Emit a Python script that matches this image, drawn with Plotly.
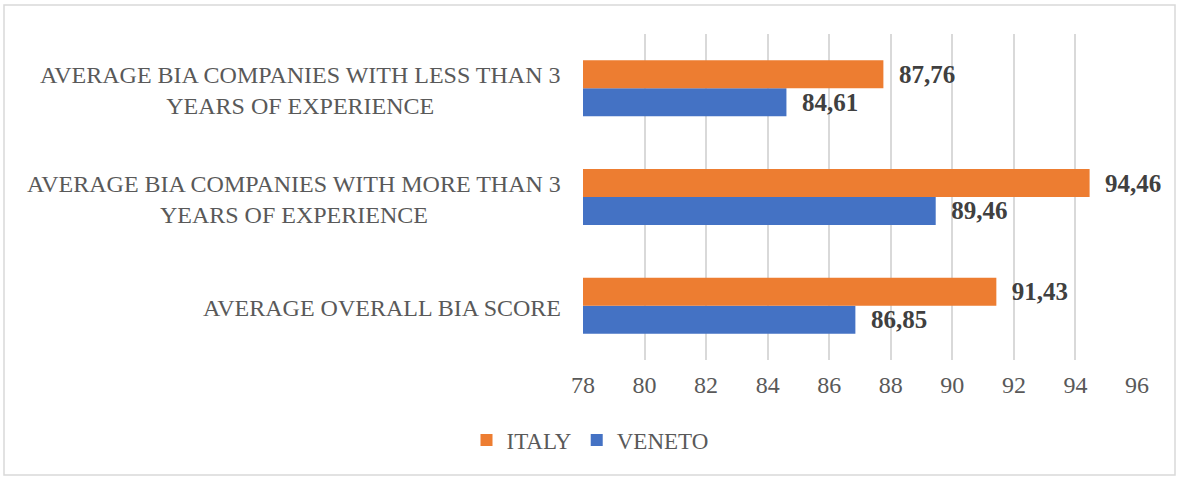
import plotly.graph_objects as go

# Categories listed bottom-to-top (Plotly draws the first category at the bottom)
categories = [
    "AVERAGE OVERALL BIA SCORE",
    "AVERAGE BIA COMPANIES WITH MORE THAN 3<br>YEARS OF EXPERIENCE",
    "AVERAGE BIA COMPANIES WITH LESS THAN 3<br>YEARS OF EXPERIENCE",
]
italy = [91.43, 94.46, 87.76]
veneto = [86.85, 89.46, 84.61]
x_ticks = [78, 80, 82, 84, 86, 88, 90, 92, 94, 96]

ORANGE = "#ED7D31"
BLUE = "#4472C4"
SERIF = "Liberation Serif, Times New Roman, serif"

W, H = 1178, 477
L, R, T, B = 583, 41, 34, 117
PW, PH = W - L - R, H - T - B

label_font = dict(family=SERIF, size=25, color="#404040")
pad = "\u00a0\u00a0"

fig = go.Figure()
fig.add_trace(go.Bar(
    name="VENETO", y=categories, x=veneto, orientation="h",
    marker=dict(color=BLUE, line=dict(width=0)),
    texttemplate=pad + "<b>%{x:.2f}</b>", textposition="outside",
    textfont=label_font, cliponaxis=False, constraintext="none",
    legendrank=2,
))
fig.add_trace(go.Bar(
    name="ITALY", y=categories, x=italy, orientation="h",
    marker=dict(color=ORANGE, line=dict(width=0)),
    texttemplate=pad + "<b>%{x:.2f}</b>", textposition="outside",
    textfont=label_font, cliponaxis=False, constraintext="none",
    legendrank=1,
))

# Category labels: centred lines, right edge aligned next to the plot area
for cat in categories:
    fig.add_annotation(
        x=0, xref="paper", y=cat, yref="y", xanchor="right", yanchor="middle",
        xshift=-20, yshift=-2, text=cat, align="center", showarrow=False,
        font=dict(family=SERIF, size=24, color="#595959"),
    )

# Light grey frame round the whole chart area
fig.add_shape(
    type="rect", xref="paper", yref="paper",
    x0=(4 - L) / PW, x1=(W - 3 - L) / PW,
    y0=(T + PH - (H - 2)) / PH, y1=(T + PH - 5) / PH,
    line=dict(color="#D9D9D9", width=1.5), fillcolor="rgba(0,0,0,0)", layer="below",
)

fig.update_layout(
    width=W, height=H,
    margin=dict(l=L, r=R, t=T, b=B, pad=0),
    paper_bgcolor="white", plot_bgcolor="white",
    barmode="group", bargap=0.485, bargroupgap=0,
    separators=",.",
    showlegend=True,
    legend=dict(
        orientation="h", x=(590 - L) / PW, xanchor="center",
        y=-(440 - T - PH) / PH, yanchor="middle",
        font=dict(family=SERIF, size=23, color="#595959"),
        itemwidth=30, tracegroupgap=0,
    ),
    xaxis=dict(
        range=[78, 96], tickvals=x_ticks, ticktext=[str(v) for v in x_ticks],
        showgrid=True, gridcolor="#D9D9D9", gridwidth=1.5,
        zeroline=False, showline=False, ticks="",
        tickfont=dict(family=SERIF, size=24, color="#595959"),
        ticklabelstandoff=8,
    ),
    yaxis=dict(
        showticklabels=False, showgrid=False, zeroline=False, showline=False,
        ticks="",
    ),
)

fig.write_html("out.html")
